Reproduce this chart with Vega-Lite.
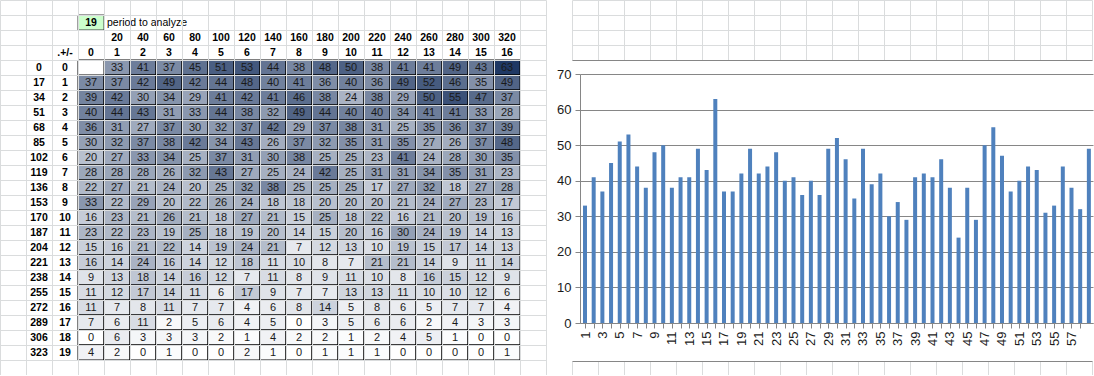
{
  "$schema": "https://vega.github.io/schema/vega-lite/v6.json",
  "padding": 0,
  "spacing": 0,
  "background": "#ffffff",
  "config": {"view": {"stroke": null}, "font": "Liberation Sans"},
  "datasets": {
    "cells": [
      {"r":"0","c":"0","v":null,"n":0},{"r":"0","c":"1","v":33,"n":1},{"r":"0","c":"2","v":41,"n":2},{"r":"0","c":"3","v":37,"n":3},{"r":"0","c":"4","v":45,"n":4},{"r":"0","c":"5","v":51,"n":5},{"r":"0","c":"6","v":53,"n":6},{"r":"0","c":"7","v":44,"n":7},{"r":"0","c":"8","v":38,"n":8},{"r":"0","c":"9","v":48,"n":9},{"r":"0","c":"10","v":50,"n":10},{"r":"0","c":"11","v":38,"n":11},{"r":"0","c":"12","v":41,"n":12},{"r":"0","c":"13","v":41,"n":13},{"r":"0","c":"14","v":49,"n":14},{"r":"0","c":"15","v":43,"n":15},{"r":"0","c":"16","v":63,"n":16},
      {"r":"1","c":"0","v":37,"n":17},{"r":"1","c":"1","v":37,"n":18},{"r":"1","c":"2","v":42,"n":19},{"r":"1","c":"3","v":49,"n":20},{"r":"1","c":"4","v":42,"n":21},{"r":"1","c":"5","v":44,"n":22},{"r":"1","c":"6","v":48,"n":23},{"r":"1","c":"7","v":40,"n":24},{"r":"1","c":"8","v":41,"n":25},{"r":"1","c":"9","v":36,"n":26},{"r":"1","c":"10","v":40,"n":27},{"r":"1","c":"11","v":36,"n":28},{"r":"1","c":"12","v":49,"n":29},{"r":"1","c":"13","v":52,"n":30},{"r":"1","c":"14","v":46,"n":31},{"r":"1","c":"15","v":35,"n":32},{"r":"1","c":"16","v":49,"n":33},
      {"r":"2","c":"0","v":39,"n":34},{"r":"2","c":"1","v":42,"n":35},{"r":"2","c":"2","v":30,"n":36},{"r":"2","c":"3","v":34,"n":37},{"r":"2","c":"4","v":29,"n":38},{"r":"2","c":"5","v":41,"n":39},{"r":"2","c":"6","v":42,"n":40},{"r":"2","c":"7","v":41,"n":41},{"r":"2","c":"8","v":46,"n":42},{"r":"2","c":"9","v":38,"n":43},{"r":"2","c":"10","v":24,"n":44},{"r":"2","c":"11","v":38,"n":45},{"r":"2","c":"12","v":29,"n":46},{"r":"2","c":"13","v":50,"n":47},{"r":"2","c":"14","v":55,"n":48},{"r":"2","c":"15","v":47,"n":49},{"r":"2","c":"16","v":37,"n":50},
      {"r":"3","c":"0","v":40,"n":51},{"r":"3","c":"1","v":44,"n":52},{"r":"3","c":"2","v":43,"n":53},{"r":"3","c":"3","v":31,"n":54},{"r":"3","c":"4","v":33,"n":55},{"r":"3","c":"5","v":44,"n":56},{"r":"3","c":"6","v":38,"n":57},{"r":"3","c":"7","v":32,"n":58},{"r":"3","c":"8","v":49,"n":59},{"r":"3","c":"9","v":44,"n":60},{"r":"3","c":"10","v":40,"n":61},{"r":"3","c":"11","v":40,"n":62},{"r":"3","c":"12","v":34,"n":63},{"r":"3","c":"13","v":41,"n":64},{"r":"3","c":"14","v":41,"n":65},{"r":"3","c":"15","v":33,"n":66},{"r":"3","c":"16","v":28,"n":67},
      {"r":"4","c":"0","v":36,"n":68},{"r":"4","c":"1","v":31,"n":69},{"r":"4","c":"2","v":27,"n":70},{"r":"4","c":"3","v":37,"n":71},{"r":"4","c":"4","v":30,"n":72},{"r":"4","c":"5","v":32,"n":73},{"r":"4","c":"6","v":37,"n":74},{"r":"4","c":"7","v":42,"n":75},{"r":"4","c":"8","v":29,"n":76},{"r":"4","c":"9","v":37,"n":77},{"r":"4","c":"10","v":38,"n":78},{"r":"4","c":"11","v":31,"n":79},{"r":"4","c":"12","v":25,"n":80},{"r":"4","c":"13","v":35,"n":81},{"r":"4","c":"14","v":36,"n":82},{"r":"4","c":"15","v":37,"n":83},{"r":"4","c":"16","v":39,"n":84},
      {"r":"5","c":"0","v":30,"n":85},{"r":"5","c":"1","v":32,"n":86},{"r":"5","c":"2","v":37,"n":87},{"r":"5","c":"3","v":38,"n":88},{"r":"5","c":"4","v":42,"n":89},{"r":"5","c":"5","v":34,"n":90},{"r":"5","c":"6","v":43,"n":91},{"r":"5","c":"7","v":26,"n":92},{"r":"5","c":"8","v":37,"n":93},{"r":"5","c":"9","v":32,"n":94},{"r":"5","c":"10","v":35,"n":95},{"r":"5","c":"11","v":31,"n":96},{"r":"5","c":"12","v":35,"n":97},{"r":"5","c":"13","v":27,"n":98},{"r":"5","c":"14","v":26,"n":99},{"r":"5","c":"15","v":37,"n":100},{"r":"5","c":"16","v":48,"n":101},
      {"r":"6","c":"0","v":20,"n":102},{"r":"6","c":"1","v":27,"n":103},{"r":"6","c":"2","v":33,"n":104},{"r":"6","c":"3","v":34,"n":105},{"r":"6","c":"4","v":25,"n":106},{"r":"6","c":"5","v":37,"n":107},{"r":"6","c":"6","v":31,"n":108},{"r":"6","c":"7","v":30,"n":109},{"r":"6","c":"8","v":38,"n":110},{"r":"6","c":"9","v":25,"n":111},{"r":"6","c":"10","v":25,"n":112},{"r":"6","c":"11","v":23,"n":113},{"r":"6","c":"12","v":41,"n":114},{"r":"6","c":"13","v":24,"n":115},{"r":"6","c":"14","v":28,"n":116},{"r":"6","c":"15","v":30,"n":117},{"r":"6","c":"16","v":35,"n":118},
      {"r":"7","c":"0","v":28,"n":119},{"r":"7","c":"1","v":28,"n":120},{"r":"7","c":"2","v":28,"n":121},{"r":"7","c":"3","v":26,"n":122},{"r":"7","c":"4","v":32,"n":123},{"r":"7","c":"5","v":43,"n":124},{"r":"7","c":"6","v":27,"n":125},{"r":"7","c":"7","v":25,"n":126},{"r":"7","c":"8","v":24,"n":127},{"r":"7","c":"9","v":42,"n":128},{"r":"7","c":"10","v":25,"n":129},{"r":"7","c":"11","v":31,"n":130},{"r":"7","c":"12","v":31,"n":131},{"r":"7","c":"13","v":34,"n":132},{"r":"7","c":"14","v":35,"n":133},{"r":"7","c":"15","v":31,"n":134},{"r":"7","c":"16","v":23,"n":135},
      {"r":"8","c":"0","v":22,"n":136},{"r":"8","c":"1","v":27,"n":137},{"r":"8","c":"2","v":21,"n":138},{"r":"8","c":"3","v":24,"n":139},{"r":"8","c":"4","v":20,"n":140},{"r":"8","c":"5","v":25,"n":141},{"r":"8","c":"6","v":32,"n":142},{"r":"8","c":"7","v":38,"n":143},{"r":"8","c":"8","v":25,"n":144},{"r":"8","c":"9","v":25,"n":145},{"r":"8","c":"10","v":25,"n":146},{"r":"8","c":"11","v":17,"n":147},{"r":"8","c":"12","v":27,"n":148},{"r":"8","c":"13","v":32,"n":149},{"r":"8","c":"14","v":18,"n":150},{"r":"8","c":"15","v":27,"n":151},{"r":"8","c":"16","v":28,"n":152},
      {"r":"9","c":"0","v":33,"n":153},{"r":"9","c":"1","v":22,"n":154},{"r":"9","c":"2","v":29,"n":155},{"r":"9","c":"3","v":20,"n":156},{"r":"9","c":"4","v":22,"n":157},{"r":"9","c":"5","v":26,"n":158},{"r":"9","c":"6","v":24,"n":159},{"r":"9","c":"7","v":18,"n":160},{"r":"9","c":"8","v":18,"n":161},{"r":"9","c":"9","v":20,"n":162},{"r":"9","c":"10","v":20,"n":163},{"r":"9","c":"11","v":20,"n":164},{"r":"9","c":"12","v":21,"n":165},{"r":"9","c":"13","v":24,"n":166},{"r":"9","c":"14","v":27,"n":167},{"r":"9","c":"15","v":23,"n":168},{"r":"9","c":"16","v":17,"n":169},
      {"r":"10","c":"0","v":16,"n":170},{"r":"10","c":"1","v":23,"n":171},{"r":"10","c":"2","v":21,"n":172},{"r":"10","c":"3","v":26,"n":173},{"r":"10","c":"4","v":21,"n":174},{"r":"10","c":"5","v":18,"n":175},{"r":"10","c":"6","v":27,"n":176},{"r":"10","c":"7","v":21,"n":177},{"r":"10","c":"8","v":15,"n":178},{"r":"10","c":"9","v":25,"n":179},{"r":"10","c":"10","v":18,"n":180},{"r":"10","c":"11","v":22,"n":181},{"r":"10","c":"12","v":16,"n":182},{"r":"10","c":"13","v":21,"n":183},{"r":"10","c":"14","v":20,"n":184},{"r":"10","c":"15","v":19,"n":185},{"r":"10","c":"16","v":16,"n":186},
      {"r":"11","c":"0","v":23,"n":187},{"r":"11","c":"1","v":22,"n":188},{"r":"11","c":"2","v":23,"n":189},{"r":"11","c":"3","v":19,"n":190},{"r":"11","c":"4","v":25,"n":191},{"r":"11","c":"5","v":18,"n":192},{"r":"11","c":"6","v":19,"n":193},{"r":"11","c":"7","v":20,"n":194},{"r":"11","c":"8","v":14,"n":195},{"r":"11","c":"9","v":15,"n":196},{"r":"11","c":"10","v":20,"n":197},{"r":"11","c":"11","v":16,"n":198},{"r":"11","c":"12","v":30,"n":199},{"r":"11","c":"13","v":24,"n":200},{"r":"11","c":"14","v":19,"n":201},{"r":"11","c":"15","v":14,"n":202},{"r":"11","c":"16","v":13,"n":203},
      {"r":"12","c":"0","v":15,"n":204},{"r":"12","c":"1","v":16,"n":205},{"r":"12","c":"2","v":21,"n":206},{"r":"12","c":"3","v":22,"n":207},{"r":"12","c":"4","v":14,"n":208},{"r":"12","c":"5","v":19,"n":209},{"r":"12","c":"6","v":24,"n":210},{"r":"12","c":"7","v":21,"n":211},{"r":"12","c":"8","v":7,"n":212},{"r":"12","c":"9","v":12,"n":213},{"r":"12","c":"10","v":13,"n":214},{"r":"12","c":"11","v":10,"n":215},{"r":"12","c":"12","v":19,"n":216},{"r":"12","c":"13","v":15,"n":217},{"r":"12","c":"14","v":17,"n":218},{"r":"12","c":"15","v":14,"n":219},{"r":"12","c":"16","v":13,"n":220},
      {"r":"13","c":"0","v":16,"n":221},{"r":"13","c":"1","v":14,"n":222},{"r":"13","c":"2","v":24,"n":223},{"r":"13","c":"3","v":16,"n":224},{"r":"13","c":"4","v":14,"n":225},{"r":"13","c":"5","v":12,"n":226},{"r":"13","c":"6","v":18,"n":227},{"r":"13","c":"7","v":11,"n":228},{"r":"13","c":"8","v":10,"n":229},{"r":"13","c":"9","v":8,"n":230},{"r":"13","c":"10","v":7,"n":231},{"r":"13","c":"11","v":21,"n":232},{"r":"13","c":"12","v":21,"n":233},{"r":"13","c":"13","v":14,"n":234},{"r":"13","c":"14","v":9,"n":235},{"r":"13","c":"15","v":11,"n":236},{"r":"13","c":"16","v":14,"n":237},
      {"r":"14","c":"0","v":9,"n":238},{"r":"14","c":"1","v":13,"n":239},{"r":"14","c":"2","v":18,"n":240},{"r":"14","c":"3","v":14,"n":241},{"r":"14","c":"4","v":16,"n":242},{"r":"14","c":"5","v":12,"n":243},{"r":"14","c":"6","v":7,"n":244},{"r":"14","c":"7","v":11,"n":245},{"r":"14","c":"8","v":8,"n":246},{"r":"14","c":"9","v":9,"n":247},{"r":"14","c":"10","v":11,"n":248},{"r":"14","c":"11","v":10,"n":249},{"r":"14","c":"12","v":8,"n":250},{"r":"14","c":"13","v":16,"n":251},{"r":"14","c":"14","v":15,"n":252},{"r":"14","c":"15","v":12,"n":253},{"r":"14","c":"16","v":9,"n":254},
      {"r":"15","c":"0","v":11,"n":255},{"r":"15","c":"1","v":12,"n":256},{"r":"15","c":"2","v":17,"n":257},{"r":"15","c":"3","v":14,"n":258},{"r":"15","c":"4","v":11,"n":259},{"r":"15","c":"5","v":6,"n":260},{"r":"15","c":"6","v":17,"n":261},{"r":"15","c":"7","v":9,"n":262},{"r":"15","c":"8","v":7,"n":263},{"r":"15","c":"9","v":7,"n":264},{"r":"15","c":"10","v":13,"n":265},{"r":"15","c":"11","v":13,"n":266},{"r":"15","c":"12","v":11,"n":267},{"r":"15","c":"13","v":10,"n":268},{"r":"15","c":"14","v":10,"n":269},{"r":"15","c":"15","v":12,"n":270},{"r":"15","c":"16","v":6,"n":271},
      {"r":"16","c":"0","v":11,"n":272},{"r":"16","c":"1","v":7,"n":273},{"r":"16","c":"2","v":8,"n":274},{"r":"16","c":"3","v":11,"n":275},{"r":"16","c":"4","v":7,"n":276},{"r":"16","c":"5","v":7,"n":277},{"r":"16","c":"6","v":4,"n":278},{"r":"16","c":"7","v":6,"n":279},{"r":"16","c":"8","v":8,"n":280},{"r":"16","c":"9","v":14,"n":281},{"r":"16","c":"10","v":5,"n":282},{"r":"16","c":"11","v":8,"n":283},{"r":"16","c":"12","v":6,"n":284},{"r":"16","c":"13","v":5,"n":285},{"r":"16","c":"14","v":7,"n":286},{"r":"16","c":"15","v":7,"n":287},{"r":"16","c":"16","v":4,"n":288},
      {"r":"17","c":"0","v":7,"n":289},{"r":"17","c":"1","v":6,"n":290},{"r":"17","c":"2","v":11,"n":291},{"r":"17","c":"3","v":2,"n":292},{"r":"17","c":"4","v":5,"n":293},{"r":"17","c":"5","v":6,"n":294},{"r":"17","c":"6","v":4,"n":295},{"r":"17","c":"7","v":5,"n":296},{"r":"17","c":"8","v":0,"n":297},{"r":"17","c":"9","v":3,"n":298},{"r":"17","c":"10","v":5,"n":299},{"r":"17","c":"11","v":6,"n":300},{"r":"17","c":"12","v":6,"n":301},{"r":"17","c":"13","v":2,"n":302},{"r":"17","c":"14","v":4,"n":303},{"r":"17","c":"15","v":3,"n":304},{"r":"17","c":"16","v":3,"n":305},
      {"r":"18","c":"0","v":0,"n":306},{"r":"18","c":"1","v":6,"n":307},{"r":"18","c":"2","v":3,"n":308},{"r":"18","c":"3","v":3,"n":309},{"r":"18","c":"4","v":3,"n":310},{"r":"18","c":"5","v":2,"n":311},{"r":"18","c":"6","v":1,"n":312},{"r":"18","c":"7","v":4,"n":313},{"r":"18","c":"8","v":2,"n":314},{"r":"18","c":"9","v":2,"n":315},{"r":"18","c":"10","v":1,"n":316},{"r":"18","c":"11","v":2,"n":317},{"r":"18","c":"12","v":4,"n":318},{"r":"18","c":"13","v":5,"n":319},{"r":"18","c":"14","v":1,"n":320},{"r":"18","c":"15","v":0,"n":321},{"r":"18","c":"16","v":0,"n":322},
      {"r":"19","c":"0","v":4,"n":323},{"r":"19","c":"1","v":2,"n":324},{"r":"19","c":"2","v":0,"n":325},{"r":"19","c":"3","v":1,"n":326},{"r":"19","c":"4","v":0,"n":327},{"r":"19","c":"5","v":0,"n":328},{"r":"19","c":"6","v":2,"n":329},{"r":"19","c":"7","v":1,"n":330},{"r":"19","c":"8","v":0,"n":331},{"r":"19","c":"9","v":1,"n":332},{"r":"19","c":"10","v":1,"n":333},{"r":"19","c":"11","v":1,"n":334},{"r":"19","c":"12","v":0,"n":335},{"r":"19","c":"13","v":0,"n":336},{"r":"19","c":"14","v":0,"n":337},{"r":"19","c":"15","v":0,"n":338},{"r":"19","c":"16","v":1,"n":339}
    ],
    "labels": [
      {"r":"p","c":"0","t":"19"},
      {"r":"h","c":"1","t":"20"},{"r":"h","c":"2","t":"40"},{"r":"h","c":"3","t":"60"},{"r":"h","c":"4","t":"80"},{"r":"h","c":"5","t":"100"},{"r":"h","c":"6","t":"120"},{"r":"h","c":"7","t":"140"},{"r":"h","c":"8","t":"160"},{"r":"h","c":"9","t":"180"},{"r":"h","c":"10","t":"200"},{"r":"h","c":"11","t":"220"},{"r":"h","c":"12","t":"240"},{"r":"h","c":"13","t":"260"},{"r":"h","c":"14","t":"280"},{"r":"h","c":"15","t":"300"},{"r":"h","c":"16","t":"320"},
      {"r":"i","c":"off","t":".+/-"},{"r":"i","c":"0","t":"0"},{"r":"i","c":"1","t":"1"},{"r":"i","c":"2","t":"2"},{"r":"i","c":"3","t":"3"},{"r":"i","c":"4","t":"4"},{"r":"i","c":"5","t":"5"},{"r":"i","c":"6","t":"6"},{"r":"i","c":"7","t":"7"},{"r":"i","c":"8","t":"8"},{"r":"i","c":"9","t":"9"},{"r":"i","c":"10","t":"10"},{"r":"i","c":"11","t":"11"},{"r":"i","c":"12","t":"12"},{"r":"i","c":"13","t":"13"},{"r":"i","c":"14","t":"14"},{"r":"i","c":"15","t":"15"},{"r":"i","c":"16","t":"16"},
      {"r":"0","c":"id","t":"0"},{"r":"0","c":"off","t":"0"},
      {"r":"1","c":"id","t":"17"},{"r":"1","c":"off","t":"1"},
      {"r":"2","c":"id","t":"34"},{"r":"2","c":"off","t":"2"},
      {"r":"3","c":"id","t":"51"},{"r":"3","c":"off","t":"3"},
      {"r":"4","c":"id","t":"68"},{"r":"4","c":"off","t":"4"},
      {"r":"5","c":"id","t":"85"},{"r":"5","c":"off","t":"5"},
      {"r":"6","c":"id","t":"102"},{"r":"6","c":"off","t":"6"},
      {"r":"7","c":"id","t":"119"},{"r":"7","c":"off","t":"7"},
      {"r":"8","c":"id","t":"136"},{"r":"8","c":"off","t":"8"},
      {"r":"9","c":"id","t":"153"},{"r":"9","c":"off","t":"9"},
      {"r":"10","c":"id","t":"170"},{"r":"10","c":"off","t":"10"},
      {"r":"11","c":"id","t":"187"},{"r":"11","c":"off","t":"11"},
      {"r":"12","c":"id","t":"204"},{"r":"12","c":"off","t":"12"},
      {"r":"13","c":"id","t":"221"},{"r":"13","c":"off","t":"13"},
      {"r":"14","c":"id","t":"238"},{"r":"14","c":"off","t":"14"},
      {"r":"15","c":"id","t":"255"},{"r":"15","c":"off","t":"15"},
      {"r":"16","c":"id","t":"272"},{"r":"16","c":"off","t":"16"},
      {"r":"17","c":"id","t":"289"},{"r":"17","c":"off","t":"17"},
      {"r":"18","c":"id","t":"306"},{"r":"18","c":"off","t":"18"},
      {"r":"19","c":"id","t":"323"},{"r":"19","c":"off","t":"19"}
    ]
  },
  "hconcat": [
    {
      "width": 546,
      "height": 375,
      "encoding": {
        "x": {"field": "c", "type": "ordinal",
          "scale": {"type": "band", "domain": ["A","id","off","0","1","2","3","4","5","6","7","8","9","10","11","12","13","14","15","16","U"], "paddingInner": 0, "paddingOuter": 0},
          "axis": {"grid": true, "tickBand": "extent", "labels": false, "ticks": false, "domain": false, "title": null, "gridColor": "#dadcdd", "minExtent": 0, "maxExtent": 0}},
        "y": {"field": "r", "type": "ordinal",
          "scale": {"type": "band", "domain": ["t","p","h","i","0","1","2","3","4","5","6","7","8","9","10","11","12","13","14","15","16","17","18","19","b"], "paddingInner": 0, "paddingOuter": 0},
          "axis": {"grid": true, "tickBand": "extent", "labels": false, "ticks": false, "domain": false, "title": null, "gridColor": "#dadcdd", "minExtent": 0, "maxExtent": 0}}
      },
      "layer": [
        {
          "data": {"name": "labels"},
          "transform": [{"filter": "datum.r === 'p'"}],
          "mark": {"type": "rect", "fill": "#ccffcc", "stroke": "#404040", "strokeWidth": 1}
        },
        {
          "data": {"name": "cells"},
          "transform": [{"filter": "datum.v !== null"}],
          "mark": {"type": "rect", "stroke": "#000000", "strokeWidth": 1},
          "encoding": {
            "fill": {"field": "v", "type": "quantitative", "legend": null,
              "scale": {"domain": [0, 63], "range": ["#ffffff", "#1f3864"], "interpolate": "rgb"}}
          }
        },
        {
          "data": {"name": "cells"},
          "transform": [{"filter": "datum.v === null"}],
          "mark": {"type": "rect", "fill": "#ffffff", "stroke": "#000000", "strokeWidth": 1}
        },
        {
          "data": {"name": "cells"},
          "transform": [{"filter": "datum.v !== null"}],
          "mark": {"type": "text", "fontSize": 11, "color": "#1a1a1a", "baseline": "middle"},
          "encoding": {"text": {"field": "v", "type": "quantitative"}}
        },
        {
          "data": {"name": "labels"},
          "mark": {"type": "text", "fontSize": 10.5, "fontWeight": "bold", "color": "#000000", "baseline": "middle"},
          "encoding": {"text": {"field": "t", "type": "nominal"}}
        },
        {
          "data": {"values": [{"r": "p", "c": "1", "t": "period to analyze"}]},
          "mark": {"type": "text", "fontSize": 10.5, "color": "#000000", "align": "left", "baseline": "middle", "dx": -10},
          "encoding": {"text": {"field": "t", "type": "nominal"}}
        },
        {
          "data": {"values": [{"c": "U", "ra": "0", "rb": "19"}]},
          "mark": {"type": "rule", "color": "#868686", "strokeWidth": 1, "xOffset": 0.5},
          "encoding": {
            "x": {"field": "c", "type": "ordinal", "bandPosition": 1,
              "axis": {"grid": true, "tickBand": "extent", "labels": false, "ticks": false, "domain": false, "title": null, "gridColor": "#dadcdd", "minExtent": 0, "maxExtent": 0}},
            "y": {"field": "ra", "type": "ordinal", "bandPosition": 0,
              "axis": {"grid": true, "tickBand": "extent", "labels": false, "ticks": false, "domain": false, "title": null, "gridColor": "#dadcdd", "minExtent": 0, "maxExtent": 0}},
            "y2": {"field": "rb", "bandPosition": 1}
          }
        }
      ]
    },
    {
      "spacing": 0,
      "vconcat": [
        {
          "width": 513,
          "height": 60,
          "data": {"values": [{"gc": "c0", "gr": "r0"}]},
          "mark": {"type": "rect", "opacity": 0},
          "encoding": {
            "x": {"field": "gc", "type": "ordinal",
              "scale": {"type": "band", "domain": ["c0","c1","c2","c3","c4","c5","c6","c7","c8","c9","c10","c11","c12","c13","c14","c15","c16","c17","c18","c19"], "range": [-8, 512], "paddingInner": 0, "paddingOuter": 0},
              "axis": {"grid": true, "tickBand": "extent", "labels": false, "ticks": false, "domain": true, "domainColor": "#868686", "title": null, "gridColor": "#dadcdd", "minExtent": 0, "maxExtent": 0}},
            "y": {"field": "gr", "type": "ordinal",
              "scale": {"type": "band", "domain": ["r0","r1","r2","r3"], "paddingInner": 0, "paddingOuter": 0},
              "axis": {"grid": true, "tickBand": "extent", "labels": false, "ticks": false, "domain": false, "title": null, "gridColor": "#dadcdd", "minExtent": 0, "maxExtent": 0}}
          }
        },
        {
          "width": 513,
          "height": 249,
          "data": {"name": "cells"},
          "transform": [{"filter": "datum.n >= 1 && datum.n <= 59"}],
          "layer": [
            {
              "mark": {"type": "bar", "color": "#4f81bd", "size": 4, "clip": true},
              "encoding": {
                "x": {"field": "n", "type": "quantitative",
                  "scale": {"domain": [1, 58.9], "nice": false, "zero": false},
                  "axis": {"values": [1,2,3,4,5,6,7,8,9,10,11,12,13,14,15,16,17,18,19,20,21,22,23,24,25,26,27,28,29,30,31,32,33,34,35,36,37,38,39,40,41,42,43,44,45,46,47,48,49,50,51,52,53,54,55,56,57,58],
                    "labelExpr": "datum.value % 2 === 1 ? datum.label : ''",
                    "labelAngle": -90, "labelAlign": "right", "labelBaseline": "middle",
                    "labelFontSize": 13, "labelColor": "#1a1a1a", "labelPadding": 3,
                    "labelOverlap": false, "labelFlush": false, "labelBound": false,
                    "tickSize": 5, "tickColor": "#868686", "domainColor": "#868686",
                    "grid": false, "title": null, "minExtent": 38, "maxExtent": 38}},
                "y": {"field": "v", "type": "quantitative",
                  "scale": {"domain": [0, 70], "nice": false},
                  "axis": {"values": [0,10,20,30,40,50,60,70], "grid": true, "gridColor": "#868686",
                    "domainColor": "#868686", "tickColor": "#868686", "tickSize": 5,
                    "labelFontSize": 13, "labelColor": "#1a1a1a", "labelPadding": 4,
                    "title": null, "minExtent": 33, "maxExtent": 33}}
              }
            },
            {
              "mark": {"type": "rule", "opacity": 0},
              "encoding": {
                "x": {"field": "n", "type": "quantitative",
                  "axis": {"orient": "top", "labels": false, "ticks": false, "domain": false, "grid": false, "title": null, "minExtent": 14, "maxExtent": 14}}
              }
            }
          ],
          "resolve": {"axis": {"x": "independent"}}
        },
        {
          "width": 513,
          "height": 14,
          "data": {"values": [{"gc": "c0", "gr": "r0"}]},
          "mark": {"type": "rect", "opacity": 0},
          "encoding": {
            "x": {"field": "gc", "type": "ordinal",
              "scale": {"type": "band", "domain": ["c0","c1","c2","c3","c4","c5","c6","c7","c8","c9","c10","c11","c12","c13","c14","c15","c16","c17","c18","c19"], "range": [-8, 512], "paddingInner": 0, "paddingOuter": 0},
              "axis": {"orient": "top", "grid": true, "tickBand": "extent", "labels": false, "ticks": false, "domain": true, "domainColor": "#868686", "title": null, "gridColor": "#dadcdd", "minExtent": 0, "maxExtent": 0}},
            "y": {"field": "gr", "type": "ordinal",
              "scale": {"type": "band", "domain": ["r0"], "paddingInner": 0, "paddingOuter": 0},
              "axis": null}
          }
        }
      ]
    }
  ]
}
